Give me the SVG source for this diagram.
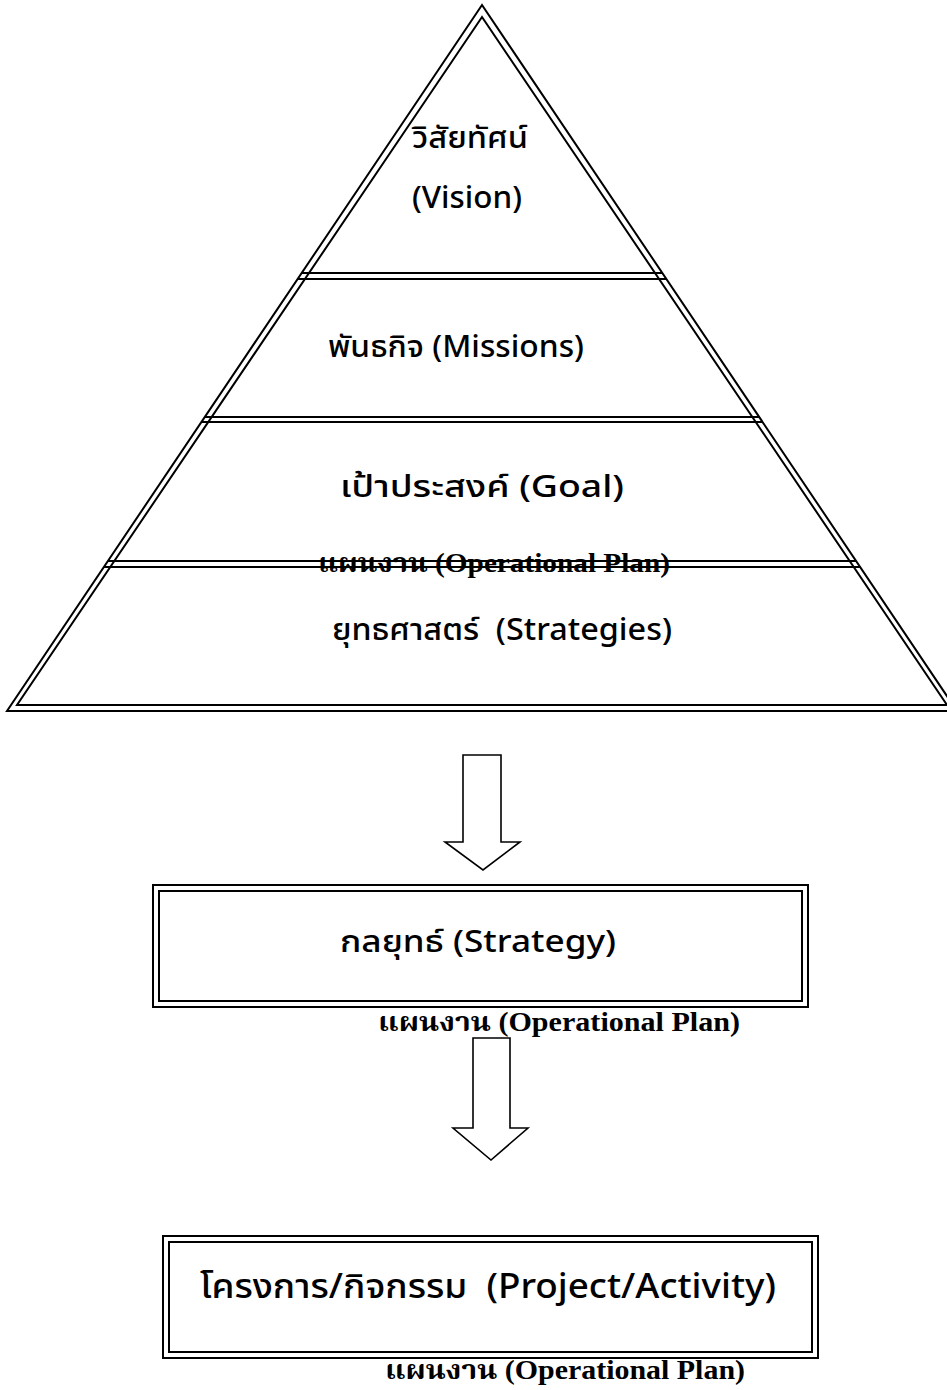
<svg xmlns="http://www.w3.org/2000/svg" width="947" height="1390" viewBox="0 0 947 1390">
<style>
.ln{fill:none;stroke:#000;stroke-width:2}
.ar{fill:#fff;stroke:#000;stroke-width:1.6}
.t{font-family:"Noto Sans","Noto Sans Thai","Leelawadee UI",Tahoma,sans-serif;font-size:31px;font-weight:500;fill:#000;white-space:pre}
.p{font-family:"Liberation Serif","Noto Serif Thai",serif;font-size:27px;font-weight:bold;fill:#000;white-space:pre}
</style>
<rect width="947" height="1390" fill="#fff"/>
<g id="pyramid">
<polygon class="ln" points="482,5 7,711 957,711"/>
<polygon class="ln" points="482,17 17,705 947,705"/>
<line class="ln" x1="302" y1="273" x2="662" y2="273"/>
<line class="ln" x1="298" y1="279" x2="666" y2="279"/>
<line class="ln" x1="205" y1="417" x2="759" y2="417"/>
<line class="ln" x1="202" y1="422" x2="762" y2="422"/>
<line class="ln" x1="108" y1="561" x2="856" y2="561"/>
<line class="ln" x1="104" y1="567" x2="860" y2="567"/>
</g>
<g id="vision"><text class="t" x="412" y="148" textLength="116" lengthAdjust="spacingAndGlyphs">วิสัยทัศน์</text><text class="t" x="412" y="208" textLength="110" lengthAdjust="spacingAndGlyphs">(Vision)</text></g>
<g id="missions"><text class="t" x="328" y="357" textLength="256" lengthAdjust="spacingAndGlyphs">พันธกิจ (Missions)</text></g>
<g id="goal"><text class="t" x="340" y="497" textLength="284" lengthAdjust="spacingAndGlyphs">เป้าประสงค์ (Goal)</text></g>
<g id="plan1"><text class="p" x="318" y="572" textLength="352" lengthAdjust="spacingAndGlyphs">แผนงาน (Operational Plan)</text></g>
<g id="strategies"><text class="t" x="332" y="640" xml:space="preserve" textLength="340" lengthAdjust="spacingAndGlyphs">ยุทธศาสตร์  (Strategies)</text></g>
<g id="strategy">
<rect class="ln" x="153" y="885" width="655" height="122"/>
<rect class="ln" x="159" y="891" width="643" height="110"/>
<text class="t" x="340" y="952" textLength="276" lengthAdjust="spacingAndGlyphs">กลยุทธ์ (Strategy)</text>
</g>
<g id="plan2"><text class="p" x="378" y="1031" textLength="362" lengthAdjust="spacingAndGlyphs">แผนงาน (Operational Plan)</text></g>
<g id="project">
<rect class="ln" x="163" y="1236" width="655" height="122"/>
<rect class="ln" x="169" y="1242" width="643" height="110"/>
<text class="t" x="200" y="1298" style="font-size:34px" xml:space="preserve" textLength="576" lengthAdjust="spacingAndGlyphs">โครงการ/กิจกรรม  (Project/Activity)</text>
</g>
<g id="plan3"><text class="p" x="385" y="1379" textLength="360" lengthAdjust="spacingAndGlyphs">แผนงาน (Operational Plan)</text></g>
<g id="connectors">
<polygon class="ar" points="463,755 501,755 501,842 520,842 483,870 445,842 463,842"/>
<polygon class="ar" points="473,1038 510,1038 510,1128 528,1128 491,1160 453,1128 473,1128"/>
</g>
</svg>
